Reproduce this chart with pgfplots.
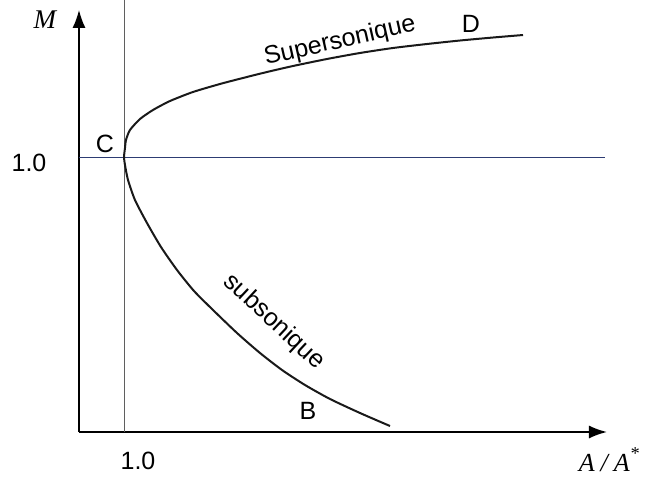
\documentclass[border=0pt]{standalone}
\usepackage{fontspec}
\setmainfont{Liberation Sans}
\newfontfamily\serifit{Liberation Serif}
\usepackage{pgfplots}
\pgfplotsset{compat=1.18}
\usetikzlibrary{arrows.meta}

\definecolor{refblue}{RGB}{45,60,115}
\definecolor{refgray}{RGB}{95,95,95}

% Mach number versus area ratio A/A* (sketch of the two branches)
\begin{document}
\begin{tikzpicture}
\begin{axis}[
  at={(0,0)}, anchor=origin,
  x=45pt, y=275pt,
  xmin=0, xmax=11.733, ymin=0, ymax=1.535,
  axis lines=left,
  axis line style={line width=1.8pt, -{Latex[length=18pt,width=13pt]}},
  clip=false,
  xtick={1}, ytick={1},
  xticklabels={1.0}, yticklabels={1.0},
  major tick length=0pt,
  tick label style={font=\fontsize{25}{29}\selectfont, anchor=center},
  xticklabel style={xshift=14pt, yshift=-29pt},
  yticklabel style={xshift=-50pt, yshift=-6pt},
]
% reference lines at A/A* = 1 and M = 1
\addplot[refgray, line width=0.8pt] coordinates {(1,0) (1,1.571)};
\addplot[refblue, line width=0.9pt] coordinates {(0,1) (11.69,1)};

% subsonic branch B -> C, then supersonic branch C -> D
\addplot[black!90, line width=2pt, smooth, tension=0.4] coordinates {
  (6.911,0.0218) (6.244,0.0691) (5.578,0.1200) (5.022,0.1709)
  (4.511,0.2255) (4.022,0.2873) (3.511,0.3600) (2.978,0.4436)
  (2.556,0.5127) (2.178,0.5891) (1.822,0.6727) (1.511,0.7600)
  (1.244,0.8436) (1.089,0.9164) (1.022,0.9709) (1.000,1.0000)
  (1.022,1.0327) (1.044,1.0618) (1.133,1.0982) (1.356,1.1382)
  (1.644,1.1709) (2.022,1.2036) (2.533,1.2364) (3.133,1.2655)
  (3.644,1.2873) (4.178,1.3091) (4.756,1.3309) (5.511,1.3564)
  (6.244,1.3782) (6.978,1.3964) (7.733,1.4109) (8.467,1.4236)
  (9.200,1.4345) (9.867,1.4436)
};

\node[font=\serifit\itshape\fontsize{27}{30}\selectfont] at (axis cs:-0.756,1.498) {M};
\node[font=\serifit\itshape\fontsize{26}{30}\selectfont] at (axis cs:11.78,-0.1)
  {A\hspace{6pt}/\hspace{6pt}A\textsuperscript{\raisebox{3pt}{*}}};

\node[font=\fontsize{25}{29}\selectfont] at (axis cs:0.578,1.047) {C};
\node[font=\fontsize{25}{29}\selectfont] at (axis cs:8.711,1.484) {D};
\node[font=\fontsize{25}{29}\selectfont] at (axis cs:5.089,0.0764) {B};
\node[font=\fontsize{25}{29}\selectfont, rotate=12.8] at (axis cs:5.8,1.42) {Supersonique};
\node[font=\fontsize{25}{29}\selectfont, rotate=-43] at (axis cs:4.333,0.40) {subsonique};
\end{axis}
\pgfresetboundingbox
\path (-79pt,-47pt) rectangle (576pt,432pt);
\end{tikzpicture}
\end{document}
